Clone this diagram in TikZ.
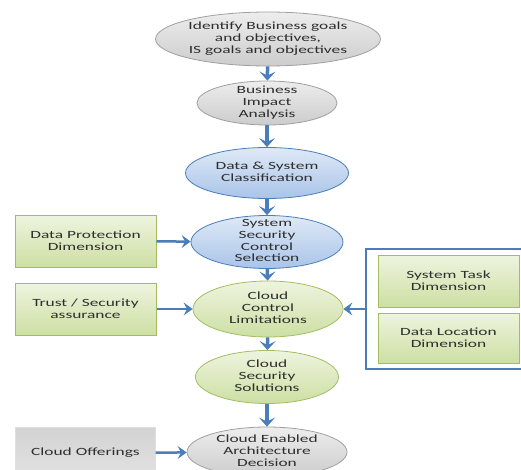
\documentclass[tikz,border=0pt]{standalone}
\usepackage{fontspec}
\setmainfont[FakeStretch=1.58]{Carlito}
\usetikzlibrary{shapes.geometric,arrows.meta,fit}

\definecolor{bluebd}{HTML}{4A7EBB}
\definecolor{bluehi}{HTML}{DFE9F6}
\definecolor{bluelo}{HTML}{A9C4E9}
\definecolor{greenbd}{HTML}{A3BE62}
\definecolor{greenhi}{HTML}{EEF4DF}
\definecolor{greenlo}{HTML}{CDDFA3}
\definecolor{graybd}{HTML}{A0A0A0}
\definecolor{grayhi}{HTML}{EDEDED}
\definecolor{graylo}{HTML}{CCCCCC}
\definecolor{inktext}{HTML}{2E2E2E}

% text of an oval, kept out of the oval's size
\newcommand{\ovaltext}[1]{\raisebox{-0.25em}[0pt][0pt]{\begin{tabular}{@{}c@{}}#1\end{tabular}}}

\tikzset{
  oval/.style={ellipse, inner sep=0pt, line width=0.8pt},
  grayoval/.style={oval, draw=graybd, top color=grayhi, bottom color=graylo},
  blueoval/.style={oval, draw=bluebd, top color=bluehi, bottom color=bluelo},
  greenoval/.style={oval, draw=greenbd, top color=greenhi, bottom color=greenlo},
  dimbox/.style={rectangle, align=center, draw=greenbd, line width=1pt, top color=greenhi, bottom color=greenlo, minimum width=141pt, minimum height=51pt},
  offerbox/.style={rectangle, align=center, draw=gray!25, top color=gray!35, bottom color=gray!22, minimum width=140pt, minimum height=52pt},
  flow/.style={draw=bluebd, line width=3.5pt, -{Stealth[length=9pt,width=16pt,inset=4pt]}},
  feed/.style={draw=bluebd, line width=2.5pt, -{Stealth[length=9pt,width=13pt,inset=3.5pt]}},
}

\begin{document}
\begin{tikzpicture}[x=1pt,y=-1pt,font=\fontsize{11}{11.7}\selectfont,text=inktext]
\useasboundingbox (0,0) rectangle (521,470);
\clip (0,0) rectangle (521,470);

    % main column
    \node[grayoval, minimum width=222pt, minimum height=54pt] (goals) at (268,39) {\ovaltext{Identify Business goals\\and objectives,\\IS goals and objectives}};
    \node[grayoval, minimum width=140pt, minimum height=44pt] (bia) at (267,103) {\ovaltext{Business\\Impact\\Analysis}};
    \node[blueoval, minimum width=163pt, minimum height=51pt] (classif) at (267,173) {\ovaltext{Data \& System\\Classification}};
    \node[blueoval, minimum width=152pt, minimum height=53pt] (select) at (267,242) {\ovaltext{System\\Security\\Control\\Selection}};
    \node[greenoval, minimum width=150pt, minimum height=56pt] (limits) at (268,309) {\ovaltext{Cloud\\Control\\Limitations}};
    \node[greenoval, minimum width=143pt, minimum height=53pt] (solutions) at (267,377) {\ovaltext{Cloud\\Security\\Solutions}};
    \node[grayoval, minimum width=160pt, minimum height=50pt] (decision) at (267,452) {\ovaltext{Cloud Enabled\\Architecture\\Decision}};

    % left inputs
    \node[dimbox, minimum height=52pt] (protect) at (85.5,241) {Data Protection\\Dimension};
    \node[dimbox, minimum height=52pt] (trust) at (85.5,309) {Trust / Security\\assurance};
    \node[offerbox] (offer) at (85.5,453) {Cloud Offerings};

    % right inputs
    \node[dimbox, minimum height=52pt] (task) at (448.5,281) {System Task\\Dimension};
    \node[dimbox, minimum height=50pt] (location) at (448.5,338) {Data Location\\Dimension};
    \node[draw=bluebd, line width=2pt, inner xsep=12pt, inner ysep=5.5pt, fit=(task)(location)] (dims) {};

    \draw[flow] (goals) -- (bia);
    \draw[flow] (bia) -- (classif);
    \draw[flow] (classif) -- (select);
    \draw[flow] (select) -- (limits);
    \draw[flow] (limits) -- (solutions);
    \draw[flow] (solutions) -- (decision);

    \draw[feed] (protect) -- (select);
    \draw[feed] (trust) -- (limits);
    \draw[feed] (offer) -- (decision);
    \draw[feed] (dims.west) -- (limits);

\end{tikzpicture}
\end{document}
